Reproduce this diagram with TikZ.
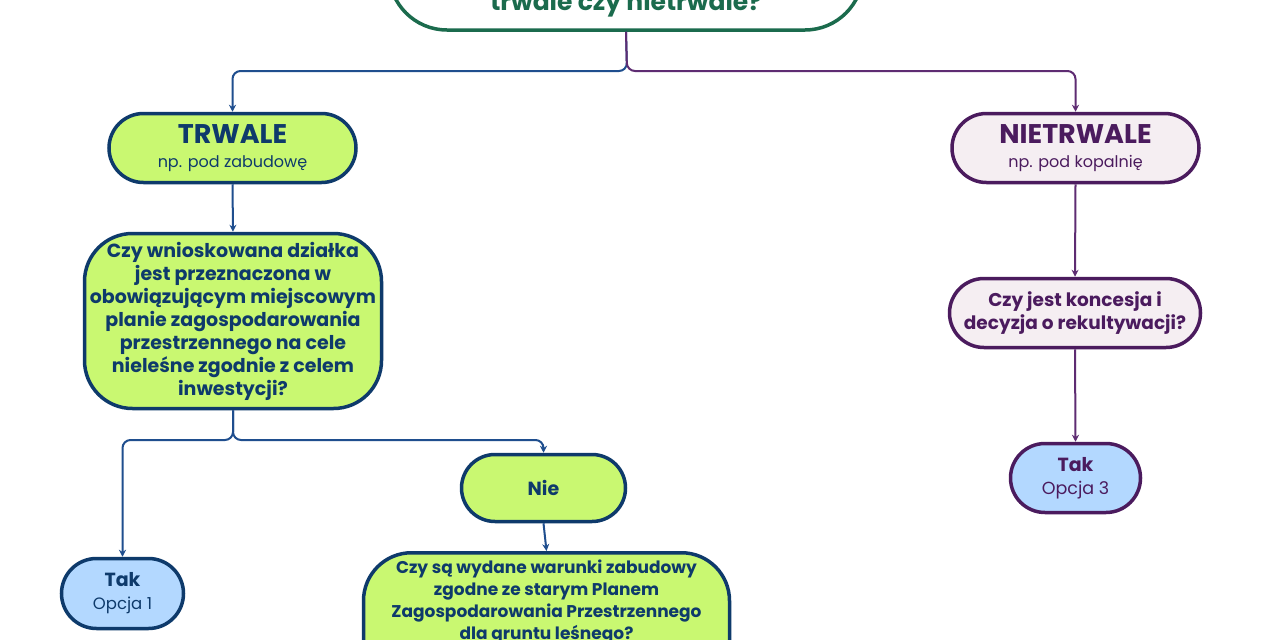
\documentclass[tikz,border=0pt]{standalone}
\usepackage{fontspec}
\setmainfont{Poppins}
\usetikzlibrary{arrows.meta}
\definecolor{topgreen}{HTML}{1B6B4D}
\definecolor{navy}{HTML}{0E3A6B}
\definecolor{bluec}{HTML}{1F4E8E}
\definecolor{purp}{HTML}{4B1B5E}
\definecolor{purpc}{HTML}{5E2C72}
\definecolor{lime}{HTML}{C9F871}
\definecolor{lav}{HTML}{F5EEF2}
\definecolor{lblue}{HTML}{B3D8FF}
\begin{document}
\begin{tikzpicture}[x=1pt,y=-1pt,
  box/.style={draw, line width=3.5pt, inner sep=0pt, align=center},
  gbox/.style={box, draw=navy, fill=lime, text=navy},
  pbox/.style={box, draw=purp, fill=lav, text=purp},
  tbox/.style={box, fill=lblue},
  conn/.style={line width=2pt, rounded corners=8pt},
  tip/.style={-{Stealth[length=7pt,width=7pt]}},
  bconn/.style={conn, draw=bluec},
  pconn/.style={conn, draw=purpc}
]
\useasboundingbox (0,0) rectangle (1280,640);
\fill[white] (0,0) rectangle (1280,640);

\coordinate (split1) at (627,71);
\coordinate (split2) at (233,440);

% nodes
\node[box, draw=topgreen, fill=white, minimum width=474, minimum height=116,
      rounded corners=58] (top) at (626,-28) {};
\node[text=topgreen, anchor=base, font=\fontsize{25}{28}\selectfont\bfseries]
      (toptext) at (626,10) {trwale czy nietrwale?};

\node[gbox, minimum width=247, minimum height=69, rounded corners=34.5,
      font=\fontsize{16}{24}\selectfont]
      (trwale) at (232.5,148)
      {{\fontsize{27}{30}\selectfont\bfseries TRWALE}\\
       np. pod zabudowę};

\node[pbox, minimum width=247, minimum height=69, rounded corners=34.5,
      font=\fontsize{16}{24}\selectfont]
      (nietrwale) at (1075.5,148)
      {{\fontsize{27}{30}\selectfont\bfseries NIETRWALE}\\
       np. pod kopalnię};

\node[gbox, minimum width=297, minimum height=175, rounded corners=48,
      font=\fontsize{19}{23}\selectfont\bfseries]
      (q1) at (233,321)
      {Czy wnioskowana działka\\jest przeznaczona w\\obowiązującym miejscowym\\planie zagospodarowania\\przestrzennego na cele\\nieleśne zgodnie z celem\\inwestycji?};

\node[gbox, minimum width=164, minimum height=67, rounded corners=33.5,
      font=\fontsize{19}{23}\selectfont\bfseries]
      (nie) at (543.5,488) {Nie};

\node[gbox, minimum width=366, minimum height=140, rounded corners=48,
      anchor=north] (q2) at (546.5,551) {};
\node[text=navy, align=center, anchor=north,
      font=\fontsize{17}{22}\selectfont\bfseries] (q2t) at (546.5,556)
      {Czy są wydane warunki zabudowy\\zgodne ze starym Planem\\Zagospodarowania Przestrzennego\\dla gruntu leśnego?};

\node[tbox, draw=navy, text=navy, minimum width=122, minimum height=70,
      rounded corners=35, font=\fontsize{16.5}{23}\selectfont]
      (tak1) at (122.5,593.5)
      {{\fontsize{19}{22}\selectfont\bfseries Tak}\\
       Opcja 1};

\node[pbox, minimum width=251, minimum height=69, rounded corners=34.5,
      font=\fontsize{18.5}{23}\selectfont\bfseries]
      (q3) at (1075,313)
      {Czy jest koncesja i\\decyzja o rekultywacji?};

\node[tbox, draw=purp, text=purp, minimum width=130, minimum height=69,
      rounded corners=34.5, font=\fontsize{17.5}{23}\selectfont]
      (tak3) at (1075.5,478)
      {{\fontsize{19}{22}\selectfont\bfseries Tak}\\
       Opcja 3};

% connectors
\draw[bconn, tip] (top.south) -- (split1) -| (trwale.north);
\draw[pconn, tip] (top.south) -- (split1) -| (nietrwale.north);
\draw[bconn, tip] (trwale.south) -- (q1.north);
\draw[bconn, tip] (q1.south) -- (split2) -| (tak1.north);
\draw[bconn, tip] (q1.south) -- (split2) -| (nie.north);
\draw[bconn, tip] (nie.south) -- (q2.north);
\draw[pconn, tip] (nietrwale.south) -- (q3.north);
\draw[pconn, tip] (q3.south) -- (tak3.north);
\end{tikzpicture}
\end{document}
